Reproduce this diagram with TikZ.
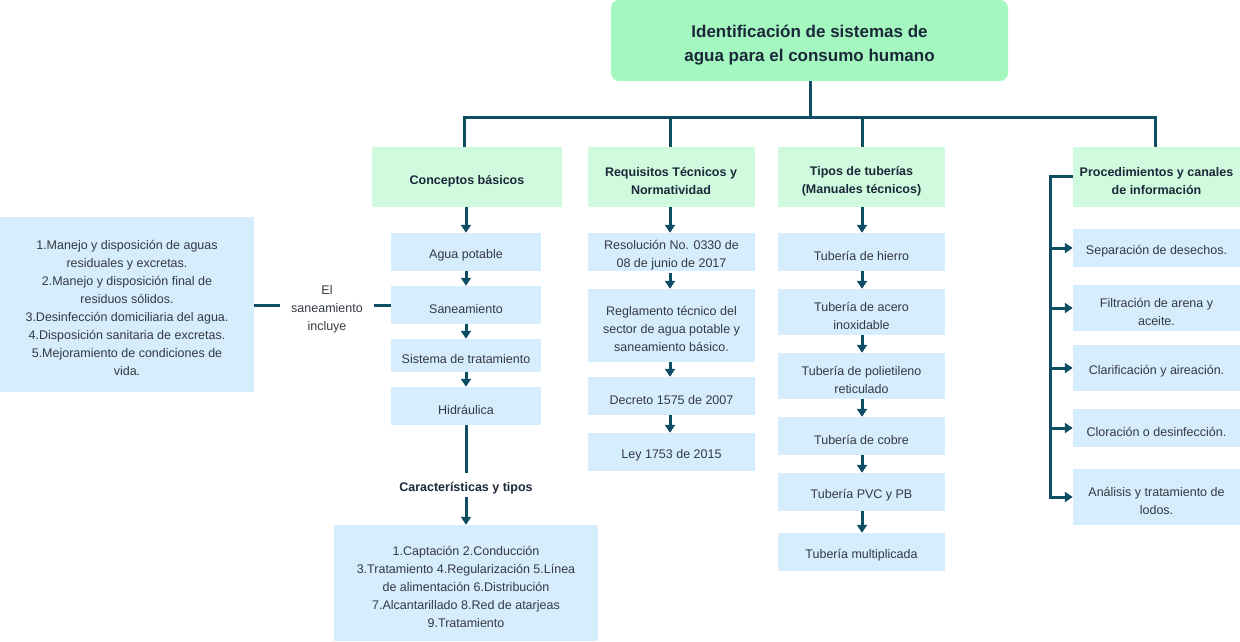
\documentclass[tikz,border=0pt]{standalone}
\usepackage{fontspec}
\setmainfont{Liberation Sans}
\usetikzlibrary{arrows.meta}
\definecolor{lnc}{RGB}{13,78,98}
\definecolor{titfill}{RGB}{164,248,191}
\definecolor{hdfill}{RGB}{208,250,222}
\definecolor{bxfill}{RGB}{213,237,252}
\definecolor{boldtxt}{RGB}{27,40,58}
\definecolor{bodytxt}{RGB}{52,58,66}
\newcommand\strT{\rule{0pt}{22pt}}
\newcommand\strH{\rule{0pt}{17pt}}
\newcommand\strB{\rule{0pt}{16.5pt}}
\newcommand\strP{\rule{0pt}{14pt}}
\tikzset{
  titlebox/.style={fill=titfill, rounded corners=8pt, align=center, text=boldtxt,
    font=\fontsize{17}{24}\selectfont\bfseries, inner sep=0pt},
  hdbox/.style={fill=hdfill, align=center, text=boldtxt, minimum height=60pt,
    font=\fontsize{12.5}{18}\selectfont\bfseries, inner sep=0pt},
  bx/.style={fill=bxfill, align=center, text=bodytxt,
    font=\fontsize{12.5}{18}\selectfont, inner sep=0pt},
  plain/.style={align=center, text=bodytxt, font=\fontsize{12.5}{18}\selectfont},
  boldlab/.style={align=center, text=boldtxt, font=\fontsize{12.5}{18}\selectfont\bfseries},
  conn/.style={draw=lnc, line width=3pt},
  arr/.style={conn, -{Triangle[length=8pt,width=10pt]}},
}
\begin{document}
\begin{tikzpicture}[x=1pt,y=-1pt]
\useasboundingbox (0,0) rectangle (1240,642);

% title
\node[titlebox, minimum width=397pt, minimum height=81pt] (title) at (809.5,40.5)
  {\strT Identificación de sistemas de\\agua para el consumo humano};

% headers
\node[hdbox, minimum width=190pt] (h1) at (467,177) {\strH Conceptos básicos};
\node[hdbox, minimum width=167pt] (h2) at (671,177) {\strH Requisitos Técnicos y\\Normatividad};
\node[hdbox, minimum width=167pt] (h3) at (861.5,177) {\strH Tipos de tuberías\\(Manuales técnicos)};
\node[hdbox, minimum width=167pt] (h4) at (1156.5,177) {\strH Procedimientos y canales\\de información};

% column 1
\node[bx, minimum width=150pt, minimum height=38pt] (a1) at (466,252) {\strB Agua potable};
\node[bx, minimum width=150pt, minimum height=38pt] (a2) at (466,305) {\strB Saneamiento};
\node[bx, minimum width=150pt, minimum height=33pt] (a3) at (466,355.5) {\strB Sistema de tratamiento};
\node[bx, minimum width=150pt, minimum height=38pt] (a4) at (466,406) {\strB Hidráulica};
\node[boldlab] (car) at (466,486) {\rule{0pt}{13pt}Características y tipos};
\node[bx, minimum width=264pt, minimum height=116pt] (a5) at (466,583)
  {\strB 1.Captación 2.Conducción\\3.Tratamiento 4.Regularización 5.Línea\\de alimentación 6.Distribución\\7.Alcantarillado 8.Red de atarjeas\\9.Tratamiento};

% left
\node[bx, minimum width=254pt, minimum height=175pt] (left) at (127,304.5)
  {\strB 1.Manejo y disposición de aguas\\residuales y excretas.\\2.Manejo y disposición final de\\residuos sólidos.\\3.Desinfección domiciliaria del agua.\\4.Disposición sanitaria de excretas.\\5.Mejoramiento de condiciones de\\vida.};
\node[plain, inner sep=0pt, minimum width=92pt] (incl) at (327,307) {\strP El\\saneamiento\\incluye};

% column 2
\node[bx, minimum width=167pt, minimum height=38pt] (b1) at (671.5,252) {\strB Resolución No. 0330 de\\08 de junio de 2017};
\node[bx, minimum width=167pt, minimum height=73pt] (b2) at (671.5,325.5) {\strB Reglamento técnico del\\sector de agua potable y\\saneamiento básico.};
\node[bx, minimum width=167pt, minimum height=38pt] (b3) at (671.5,396) {\strB Decreto 1575 de 2007};
\node[bx, minimum width=167pt, minimum height=38pt] (b4) at (671.5,452) {\strB Ley 1753 de 2015};

% column 3
\node[bx, minimum width=167pt, minimum height=38pt] (c1) at (861.5,252) {\strB Tubería de hierro};
\node[bx, minimum width=167pt, minimum height=46pt] (c2) at (861.5,312) {\strB Tubería de acero\\inoxidable};
\node[bx, minimum width=167pt, minimum height=46pt] (c3) at (861.5,376) {\strB Tubería de polietileno\\reticulado};
\node[bx, minimum width=167pt, minimum height=38pt] (c4) at (861.5,436) {\strB Tubería de cobre};
\node[bx, minimum width=167pt, minimum height=38pt] (c5) at (861.5,492) {\strB Tubería PVC y PB};
\node[bx, minimum width=167pt, minimum height=38pt] (c6) at (861.5,552) {\strB Tubería multiplicada};

% column 4
\node[bx, minimum width=167pt, minimum height=38pt] (d1) at (1156.5,248) {\strB Separación de desechos.};
\node[bx, minimum width=167pt, minimum height=46pt] (d2) at (1156.5,308) {\strB Filtración de arena y\\aceite.};
\node[bx, minimum width=167pt, minimum height=46pt] (d3) at (1156.5,368) {\strB Clarificación y aireación.};
\node[bx, minimum width=167pt, minimum height=38pt] (d4) at (1156.5,428) {\strB Cloración o desinfección.};
\node[bx, minimum width=167pt, minimum height=56pt] (d5) at (1156.5,497) {\strB Análisis y tratamiento de\\lodos.};

% tree connectors
\coordinate (j0) at (810,117);
\coordinate (j1) at (464,117);
\coordinate (j2) at (670,117);
\coordinate (j3) at (862,117);
\coordinate (j4) at (1155,117);
\draw[conn] (title.south -| j0) -- (j0);
\draw[conn] ([xshift=-1.5pt]j1) -- ([xshift=1.5pt]j4);
\draw[conn] (j1) -- (h1.north -| j1);
\draw[conn] (j2) -- (h2.north -| j2);
\draw[conn] (j3) -- (h3.north -| j3);
\draw[conn] (j4) -- (h4.north -| j4);

% column 1 arrows
\draw[arr] (h1.south -| a1) -- (a1.north);
\draw[arr] (a1.south) -- (a2.north);
\draw[arr] (a2.south) -- (a3.north);
\draw[arr] (a3.south) -- (a4.north);
\coordinate (k1) at (466,473);
\coordinate (k2) at (466,497);
\draw[conn] (a4.south) -- (k1);
\draw[arr] (k2) -- (a5.north);

% left connectors
\draw[conn] (left.east |- a2.west) -- ([xshift=-1pt]incl.west |- a2.west);
\draw[conn] ([xshift=1pt]incl.east |- a2.west) -- (a2.west);

% column 2 arrows
\draw[arr] (h2.south -| j2) -- (b1.north -| j2);
\draw[arr] ([yshift=-2pt]b1.south -| j2) -- (b2.north -| j2);
\draw[arr] (b2.south -| j2) -- (b3.north -| j2);
\draw[arr] (b3.south -| j2) -- (b4.north -| j2);

% column 3 arrows
\draw[arr] (h3.south -| j3) -- (c1.north -| j3);
\draw[arr] (c1.south -| j3) -- (c2.north -| j3);
\draw[arr] (c2.south -| j3) -- (c3.north -| j3);
\draw[arr] (c3.south -| j3) -- (c4.north -| j3);
\draw[arr] (c4.south -| j3) -- (c5.north -| j3);
\draw[arr] (c5.south -| j3) -- (c6.north -| j3);

% column 4 bracket
\coordinate (br) at (1050,176);
\draw[conn] (h4.west |- br) -- (br) -- (br |- d5.west);
\draw[arr] ([xshift=-1.5pt]br |- d5.west) -- (d5.west);
\draw[arr] (br |- d1.west) -- (d1.west);
\draw[arr] (br |- d2.west) -- (d2.west);
\draw[arr] (br |- d3.west) -- (d3.west);
\draw[arr] (br |- d4.west) -- (d4.west);
\end{tikzpicture}
\end{document}
